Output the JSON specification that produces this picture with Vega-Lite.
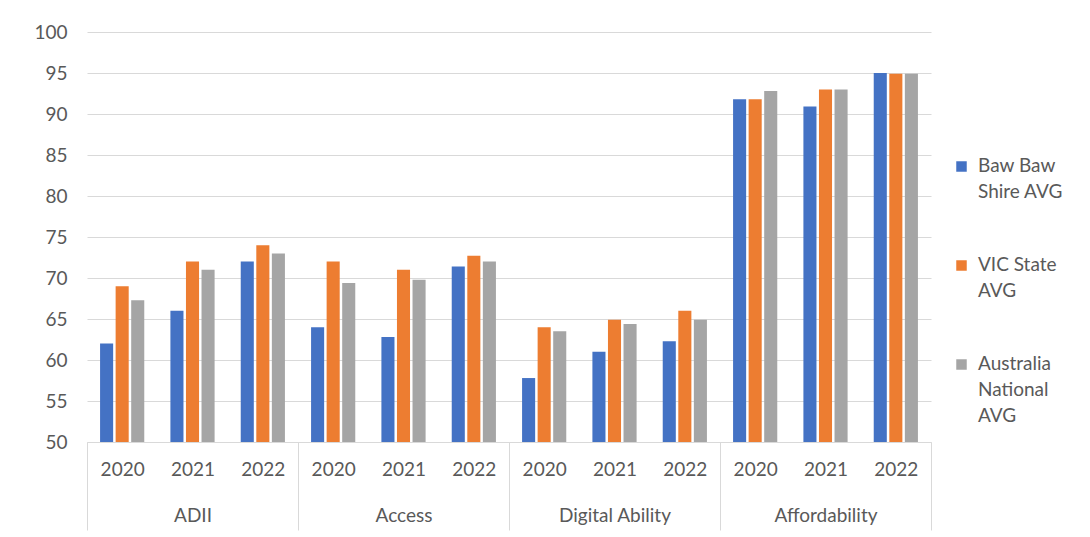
{
  "$schema": "https://vega.github.io/schema/vega-lite/v6.json",
  "width": 844,
  "height": 410,
  "autosize": {"type": "none"},
  "padding": {"left": 87, "top": 32, "right": 159, "bottom": 95},
  "background": "white",
  "config": {
    "view": {"stroke": null},
    "font": "Lato",
    "axis": {"labelFont": "Lato", "labelColor": "#595959", "labelFontSize": 19}
  },
  "data": {
    "values": [
      {"cat": "ADII", "year": "2020", "key": "ADII|2020", "series": "Baw Baw Shire AVG", "value": 62},
      {"cat": "ADII", "year": "2020", "key": "ADII|2020", "series": "VIC State AVG", "value": 69},
      {"cat": "ADII", "year": "2020", "key": "ADII|2020", "series": "Australia National AVG", "value": 67.3},
      {"cat": "ADII", "year": "2021", "key": "ADII|2021", "series": "Baw Baw Shire AVG", "value": 66},
      {"cat": "ADII", "year": "2021", "key": "ADII|2021", "series": "VIC State AVG", "value": 72},
      {"cat": "ADII", "year": "2021", "key": "ADII|2021", "series": "Australia National AVG", "value": 71},
      {"cat": "ADII", "year": "2022", "key": "ADII|2022", "series": "Baw Baw Shire AVG", "value": 72},
      {"cat": "ADII", "year": "2022", "key": "ADII|2022", "series": "VIC State AVG", "value": 74},
      {"cat": "ADII", "year": "2022", "key": "ADII|2022", "series": "Australia National AVG", "value": 73},
      {"cat": "Access", "year": "2020", "key": "Access|2020", "series": "Baw Baw Shire AVG", "value": 64},
      {"cat": "Access", "year": "2020", "key": "Access|2020", "series": "VIC State AVG", "value": 72},
      {"cat": "Access", "year": "2020", "key": "Access|2020", "series": "Australia National AVG", "value": 69.4},
      {"cat": "Access", "year": "2021", "key": "Access|2021", "series": "Baw Baw Shire AVG", "value": 62.8},
      {"cat": "Access", "year": "2021", "key": "Access|2021", "series": "VIC State AVG", "value": 71},
      {"cat": "Access", "year": "2021", "key": "Access|2021", "series": "Australia National AVG", "value": 69.8},
      {"cat": "Access", "year": "2022", "key": "Access|2022", "series": "Baw Baw Shire AVG", "value": 71.4},
      {"cat": "Access", "year": "2022", "key": "Access|2022", "series": "VIC State AVG", "value": 72.7},
      {"cat": "Access", "year": "2022", "key": "Access|2022", "series": "Australia National AVG", "value": 72},
      {"cat": "Digital Ability", "year": "2020", "key": "Digital Ability|2020", "series": "Baw Baw Shire AVG", "value": 57.8},
      {"cat": "Digital Ability", "year": "2020", "key": "Digital Ability|2020", "series": "VIC State AVG", "value": 64},
      {"cat": "Digital Ability", "year": "2020", "key": "Digital Ability|2020", "series": "Australia National AVG", "value": 63.5},
      {"cat": "Digital Ability", "year": "2021", "key": "Digital Ability|2021", "series": "Baw Baw Shire AVG", "value": 61},
      {"cat": "Digital Ability", "year": "2021", "key": "Digital Ability|2021", "series": "VIC State AVG", "value": 64.9},
      {"cat": "Digital Ability", "year": "2021", "key": "Digital Ability|2021", "series": "Australia National AVG", "value": 64.4},
      {"cat": "Digital Ability", "year": "2022", "key": "Digital Ability|2022", "series": "Baw Baw Shire AVG", "value": 62.3},
      {"cat": "Digital Ability", "year": "2022", "key": "Digital Ability|2022", "series": "VIC State AVG", "value": 66},
      {"cat": "Digital Ability", "year": "2022", "key": "Digital Ability|2022", "series": "Australia National AVG", "value": 64.9},
      {"cat": "Affordability", "year": "2020", "key": "Affordability|2020", "series": "Baw Baw Shire AVG", "value": 91.8},
      {"cat": "Affordability", "year": "2020", "key": "Affordability|2020", "series": "VIC State AVG", "value": 91.8},
      {"cat": "Affordability", "year": "2020", "key": "Affordability|2020", "series": "Australia National AVG", "value": 92.8},
      {"cat": "Affordability", "year": "2021", "key": "Affordability|2021", "series": "Baw Baw Shire AVG", "value": 90.9},
      {"cat": "Affordability", "year": "2021", "key": "Affordability|2021", "series": "VIC State AVG", "value": 93},
      {"cat": "Affordability", "year": "2021", "key": "Affordability|2021", "series": "Australia National AVG", "value": 93},
      {"cat": "Affordability", "year": "2022", "key": "Affordability|2022", "series": "Baw Baw Shire AVG", "value": 95},
      {"cat": "Affordability", "year": "2022", "key": "Affordability|2022", "series": "VIC State AVG", "value": 94.9},
      {"cat": "Affordability", "year": "2022", "key": "Affordability|2022", "series": "Australia National AVG", "value": 94.9}
    ]
  },
  "mark": {"type": "bar"},
  "encoding": {
    "x": {
      "field": "key",
      "type": "nominal",
      "sort": null,
      "scale": {"paddingInner": 0, "paddingOuter": 0},
      "axis": {
        "title": null,
        "labelAngle": 0,
        "labelOverlap": false,
        "labelBound": false,
        "labelBaseline": "top",
        "labelPadding": -70,
        "labelLineHeight": 46,
        "labelExpr": "split(datum.value, '|')[1] == '2021' ? [split(datum.value, '|')[1], split(datum.value, '|')[0]] : split(datum.value, '|')[1]",
        "domainColor": "#d9d9d9",
        "domainWidth": 1,
        "tickBand": "extent",
        "tickSize": 88,
        "tickWidth": 1,
        "tickColor": {"condition": {"test": "!isString(datum.value) || slice(datum.value, -4) == '2022'", "value": "#d9d9d9"}, "value": "transparent"}
      }
    },
    "xOffset": {
      "field": "series",
      "type": "nominal",
      "sort": ["Baw Baw Shire AVG", "VIC State AVG", "Australia National AVG"],
      "scale": {"paddingInner": 0.16, "paddingOuter": 0.84}
    },
    "y": {
      "field": "value",
      "type": "quantitative",
      "scale": {"domain": [50, 100], "zero": false, "nice": false},
      "axis": {
        "title": null,
        "values": [50, 55, 60, 65, 70, 75, 80, 85, 90, 95, 100],
        "domain": false,
        "ticks": false,
        "labelPadding": 20,
        "gridColor": "#d9d9d9",
        "gridWidth": 1
      }
    },
    "y2": {"datum": 50},
    "color": {
      "field": "series",
      "type": "nominal",
      "sort": ["Baw Baw Shire AVG", "VIC State AVG", "Australia National AVG"],
      "scale": {"domain": ["Baw Baw Shire AVG", "VIC State AVG", "Australia National AVG"], "range": ["#4472C4", "#ED7D31", "#A5A5A5"]},
      "legend": {
        "title": null,
        "orient": "none",
        "legendX": 865,
        "legendY": 125,
        "padding": 0,
        "symbolType": "square",
        "symbolSize": 110,
        "symbolStrokeWidth": 0,
        "labelFont": "Lato",
        "labelFontSize": 19,
        "labelColor": "#595959",
        "labelOffset": 7,
        "labelBaseline": "top",
        "rowPadding": 53,
        "labelExpr": "datum.label == 'Baw Baw Shire AVG' ? ['Baw Baw', 'Shire AVG'] : datum.label == 'VIC State AVG' ? ['VIC State', 'AVG'] : ['Australia', 'National', 'AVG']",
        "encode": {
          "labels": {"update": {"lineHeight": {"value": 26}, "dy": {"value": -10}}}
        }
      }
    }
  }
}
